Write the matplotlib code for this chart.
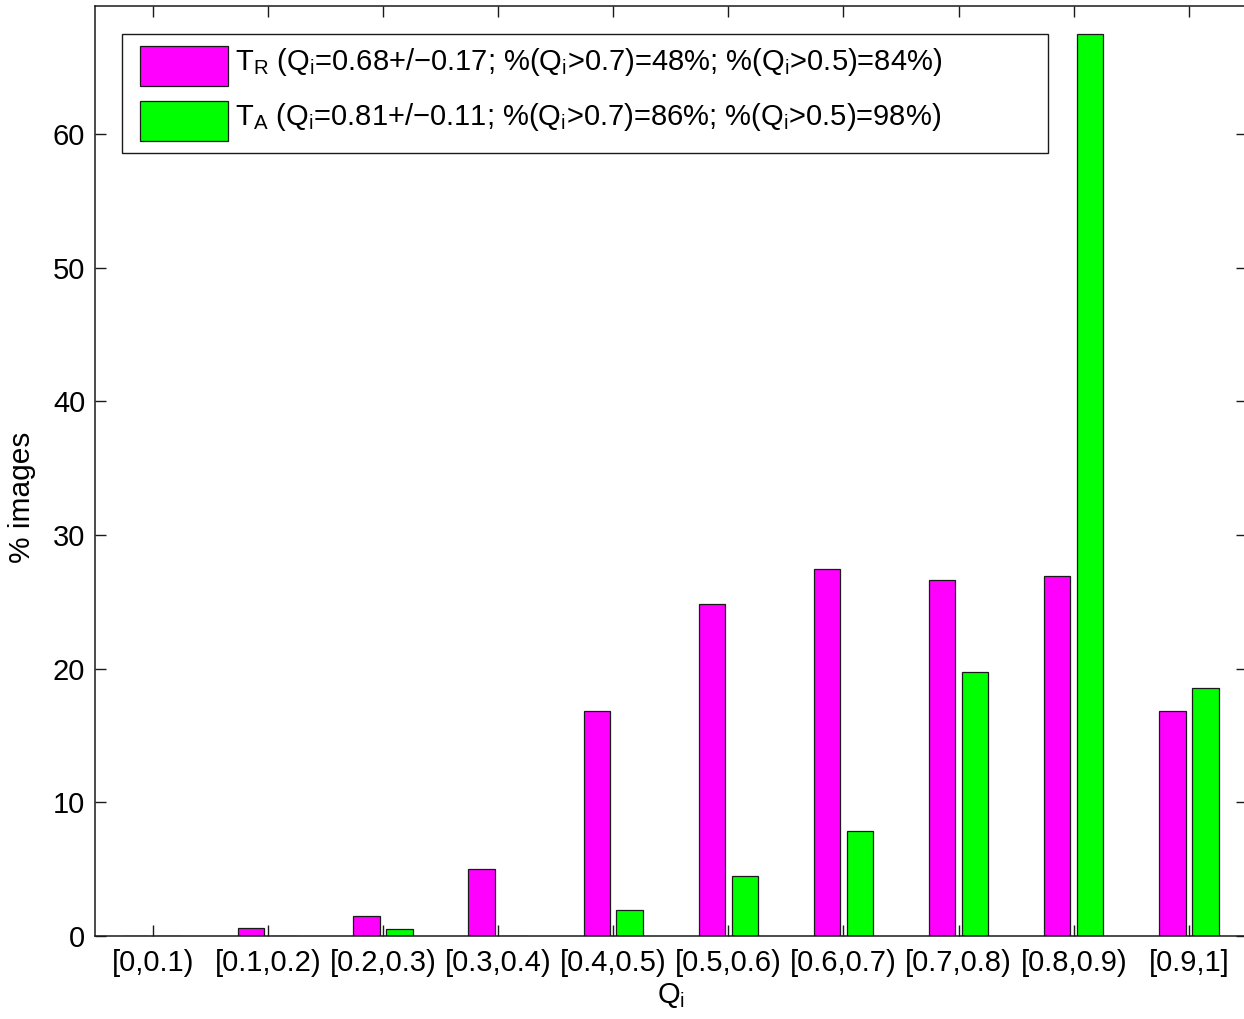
import matplotlib
matplotlib.use('Agg')
import matplotlib.pyplot as plt
from matplotlib.legend_handler import HandlerBase
from matplotlib.patches import Rectangle
from matplotlib.container import BarContainer
import numpy as np

categories = ['[0,0.1)', '[0.1,0.2)', '[0.2,0.3)', '[0.3,0.4)', '[0.4,0.5)',
              '[0.5,0.6)', '[0.6,0.7)', '[0.7,0.8)', '[0.8,0.9)', '[0.9,1]']
t_r = [0.0, 0.62, 1.52, 5.01, 16.83, 24.83, 27.47, 26.60, 26.90, 16.83]
t_a = [0.0, 0.0, 0.50, 0.0, 1.97, 4.46, 7.85, 19.75, 67.50, 18.55]
label_r = r'T$_\mathrm{R}$ (Q$_\mathrm{i}$=0.68+/−0.17; %(Q$_\mathrm{i}$>0.7)=48%; %(Q$_\mathrm{i}$>0.5)=84%)'
label_a = r'T$_\mathrm{A}$ (Q$_\mathrm{i}$=0.81+/−0.11; %(Q$_\mathrm{i}$>0.7)=86%; %(Q$_\mathrm{i}$>0.5)=98%)'
yticks = [0, 10, 20, 30, 40, 50, 60]

plt.rcParams['font.family'] = ['Liberation Sans', 'DejaVu Sans']
plt.rcParams['mathtext.fontset'] = 'custom'
plt.rcParams['mathtext.rm'] = 'Liberation Sans'
plt.rcParams['mathtext.it'] = 'Liberation Sans:italic'
plt.rcParams['mathtext.bf'] = 'Liberation Sans:bold'

W, H = 1244, 1019
PX = 0.72  # points per pixel at dpi 100


class SwatchHandler(HandlerBase):
    """Legend swatch: 88x40 px box, 16 px below / 24 px above baseline."""
    def legend_artist(self, legend, orig_handle, fontsize, handlebox):
        below = 16 * PX
        tall = 40 * PX
        handlebox.ydescent = below
        handlebox.height = tall
        src = orig_handle.patches[0]
        p = Rectangle((6 * PX, -below), 88 * PX, tall,
                      facecolor=src.get_facecolor(), edgecolor=src.get_edgecolor(),
                      linewidth=src.get_linewidth(),
                      transform=handlebox.get_transform())
        handlebox.add_artist(p)
        return p


fig = plt.figure(figsize=(W / 100, H / 100), dpi=100)
ax = fig.add_axes([95 / W, (H - 936) / H, 1151.5 / W, 930 / H])

x = np.arange(1, len(categories) + 1)
bw = 0.229
off = 0.143
ax.bar(x - off, t_r, bw, color='#ff00ff', edgecolor='#1a1a1a', linewidth=0.9, label=label_r)
ax.bar(x + off, t_a, bw, color='#00ff00', edgecolor='#1a1a1a', linewidth=0.9, label=label_a)

ax.set_xlim(0.5, 10.5)
ax.set_ylim(0, 69.57)
ax.set_xticks(x)
ax.set_xticklabels(categories)
ax.set_yticks(yticks)
ax.tick_params(direction='in', length=8, width=1.0, top=True, right=True,
               labelsize=21, colors='#1a1a1a', labelcolor='black')
ax.tick_params(axis='x', pad=9.5)
ax.tick_params(axis='y', pad=7)
for s in ax.spines.values():
    s.set_linewidth(1.1)
    s.set_color('#1a1a1a')

ax.set_xlabel(r'Q$_\mathrm{i}$', fontsize=21)
ax.xaxis.set_label_coords(0.5, -0.048)
ax.set_ylabel('% images', fontsize=21.5)
ax.yaxis.set_label_coords(-0.051, 0.472)

leg = ax.legend(loc='upper left', bbox_to_anchor=(0.0234, 0.0, 0.8042, 0.9699),
                mode='expand', borderaxespad=0.0, fontsize=21,
                handlelength=94 * PX / 21, handletextpad=0.25,
                borderpad=0.41, labelspacing=0.51, fancybox=False,
                framealpha=1.0, edgecolor='#1a1a1a',
                handler_map={BarContainer: SwatchHandler()})
leg.get_frame().set_linewidth(1.0)

fig.savefig('out.png', dpi=100)
